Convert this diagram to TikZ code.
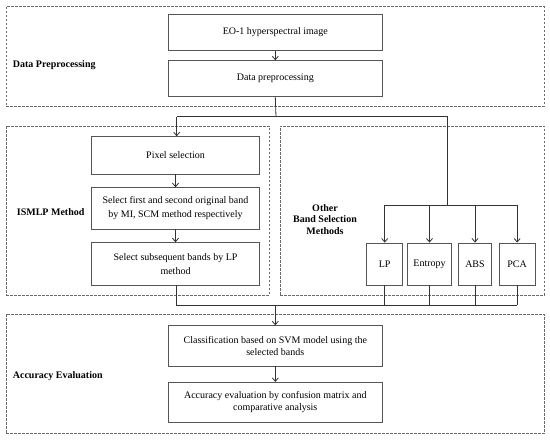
\documentclass[tikz,border=0pt]{standalone}
\usepackage{fontspec}
\setmainfont{Liberation Serif}
\usetikzlibrary{arrows.meta}
\definecolor{boxgray}{HTML}{555555}
\definecolor{dashgray}{HTML}{6A6A6A}
\definecolor{linegray}{HTML}{333333}
\begin{document}
\begin{tikzpicture}[x=1pt,y=-1pt,
  box/.style={draw=boxgray, line width=0.8pt, fill=white, align=center, inner sep=0pt, font=\fontsize{10}{11.6}\selectfont},
  tallbox/.style={box, font=\fontsize{10}{13.6}\selectfont},
  group/.style={draw=dashgray, line width=0.7pt, dash pattern=on 2.5pt off 1.5pt, inner sep=0pt},
  lbl/.style={font=\fontsize{10}{11.7}\selectfont\bfseries, inner sep=0pt, align=center},
  conn/.style={draw=linegray, line width=0.8pt},
  arr/.style={conn, -{Straight Barb[length=3.5pt,width=6pt]}}
]
\useasboundingbox[fill=white] (0,0) rectangle (550,441);

% groups
\node[group, minimum width=538.3pt, minimum height=99.3pt] (gdp) at (275.15,56.35) {};
\node[group, minimum width=263.3pt, minimum height=169pt] (gis) at (137.65,210.5) {};
\node[group, minimum width=264.3pt, minimum height=169pt] (got) at (412.15,210.5) {};
\node[group, minimum width=538.3pt, minimum height=119.3pt] (gae) at (275.15,373.65) {};

% labels
\node[lbl, anchor=west] (ldp) at (12.7,65) {Data Preprocessing};
\node[lbl, anchor=west] (lis) at (16.7,212.3) {ISMLP Method};
\node[lbl] (lot) at (325,219.3) {Other\\Band Selection\\Methods};
\node[lbl, anchor=west] (lae) at (12.7,375.7) {Accuracy Evaluation};

% boxes
\node[box, minimum width=214pt, minimum height=36.7pt] (eo) at (275.3,32.35) {EO-1 hyperspectral image};
\node[box, minimum width=214pt, minimum height=36pt] (dp) at (275.3,78.7) {Data preprocessing};
\node[tallbox, minimum width=167.6pt, minimum height=37.3pt] (pix) at (175.5,155.35) {Pixel selection};
\node[tallbox, minimum width=167.6pt, minimum height=41.3pt] (sel1) at (175.5,208.35) {Select first and second original band\\by MI, SCM method respectively};
\node[tallbox, minimum width=167.6pt, minimum height=42.3pt] (sel2) at (175.5,263.85) {Select subsequent bands by LP\\method};
\node[box, minimum width=36pt, minimum height=42pt] (lp) at (384.7,264) {LP};
\node[box, minimum width=44.4pt, minimum height=42pt] (ent) at (429.5,264) {Entropy};
\node[box, minimum width=33.4pt, minimum height=42pt] (abs) at (475,264) {ABS};
\node[box, minimum width=35.7pt, minimum height=42pt] (pca) at (517.15,264) {PCA};
\node[box, minimum width=214pt, minimum height=40.3pt] (cls) at (275.3,345.85) {Classification based on SVM model using the\\selected bands};
\node[box, minimum width=214pt, minimum height=40pt] (acc) at (275.3,402.3) {Accuracy evaluation by confusion matrix and\\comparative analysis};

% connectors
\draw[arr] (eo) -- (dp);
\coordinate (split) at (276,116.7);
\coordinate (sL) at (176.7,116.7);
\coordinate (sR) at (447.7,116.7);
\coordinate (oj) at (447.7,205);
\draw[conn] (dp.south) -- (split);
\draw[conn] (sL) -- (sR);
\draw[arr] (sL) -- (sL |- pix.north);
\draw[arr] (pix) -- (sel1);
\draw[arr] (sel1) -- (sel2);
\draw[conn] (sR) -- (oj);
\draw[conn] (lp.north |- oj) -- (pca.north |- oj);
\draw[arr] (lp.north |- oj) -- (lp.north);
\draw[arr] (ent.north |- oj) -- (ent.north);
\draw[arr] (abs.north |- oj) -- (abs.north);
\draw[arr] (pca.north |- oj) -- (pca.north);
\coordinate (mL) at (176.7,305);
\coordinate (mR) at (pca.south |- mL);
\draw[conn] (sel2.south -| mL) -- (mL) -- (mR);
\draw[conn] (lp.south) -- (lp.south |- mL);
\draw[conn] (ent.south) -- (ent.south |- mL);
\draw[conn] (abs.south) -- (abs.south |- mL);
\draw[conn] (pca.south) -- (mR);
\draw[arr] (cls.north |- mL) -- (cls.north);
\draw[arr] (cls) -- (acc);
\end{tikzpicture}
\end{document}
